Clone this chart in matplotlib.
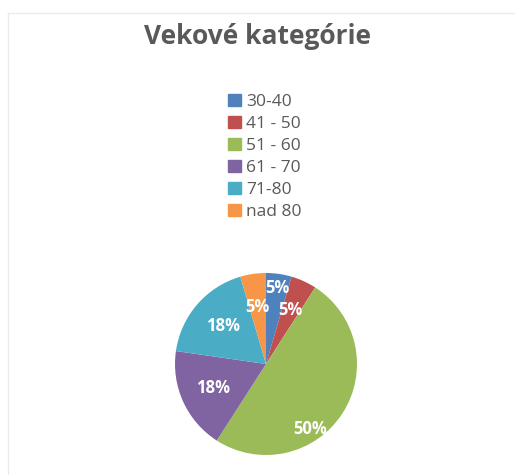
import numpy as np
import matplotlib
matplotlib.use("Agg")
from matplotlib import pyplot as plt
from matplotlib.lines import Line2D

plt.rcParams['font.family'] = ['Open Sans', 'DejaVu Sans']

categories = ['30-40', '41 - 50', '51 - 60', '61 - 70', '71-80', 'nad 80']
counts = [1, 1, 11, 4, 4, 1]
colors = ['#4F81BD', '#C0504D', '#9BBB59', '#8064A2', '#4BACC6', '#F79646']

# label radius (fraction of pie radius) and angle shift per slice
label_r = [0.84, 0.65, 0.87, 0.64, 0.63, 0.63]
label_shift = [0, 0, -23, 0, 0, 0]

fig = plt.figure(figsize=(5.15, 4.75), dpi=100)
fig.patch.set_facecolor('white')

# faint chart border
fig.add_artist(Line2D([8/515, 8/515], [0, 1 - 13/475], color='#ebebeb', lw=1))
fig.add_artist(Line2D([8/515, 1], [1 - 13/475, 1 - 13/475], color='#ebebeb', lw=1))

fig.text(0.5, 1 - 37/475, 'Vekové kategórie', ha='center', va='center',
         fontsize=19, fontweight='bold', color='#595959')

# pie: center (266, 364), radius ~91 px
r = 91
ax = fig.add_axes([(266 - r)/515, 1 - (364 + r)/475, 2*r/515, 2*r/475])
wedges, _ = ax.pie(counts, colors=colors, startangle=90, counterclock=False,
                   wedgeprops=dict(linewidth=0))
ax.set_xlim(-1, 1)
ax.set_ylim(-1, 1)
ax.set_aspect('equal')

total = sum(counts)
for w, c, lr, sh in zip(wedges, counts, label_r, label_shift):
    mid = np.deg2rad((w.theta1 + w.theta2) / 2 + sh)
    ax.text(lr*np.cos(mid), lr*np.sin(mid), '%d%%' % round(100*c/total),
            ha='center', va='center', color='white', fontsize=12,
            fontweight='bold')

# legend
handles = [plt.Rectangle((0, 0), 1, 1, color=c) for c in colors]
leg = fig.legend(handles, categories, loc='upper left',
                 bbox_to_anchor=(219/515, 1 - 85/475), frameon=False,
                 fontsize=12.5, handlelength=0.75, handleheight=0.75,
                 handletextpad=0.3, labelspacing=0.32, borderpad=0)
for t in leg.get_texts():
    t.set_color('#595959')

fig.savefig('out.png', dpi=100, facecolor='white')
